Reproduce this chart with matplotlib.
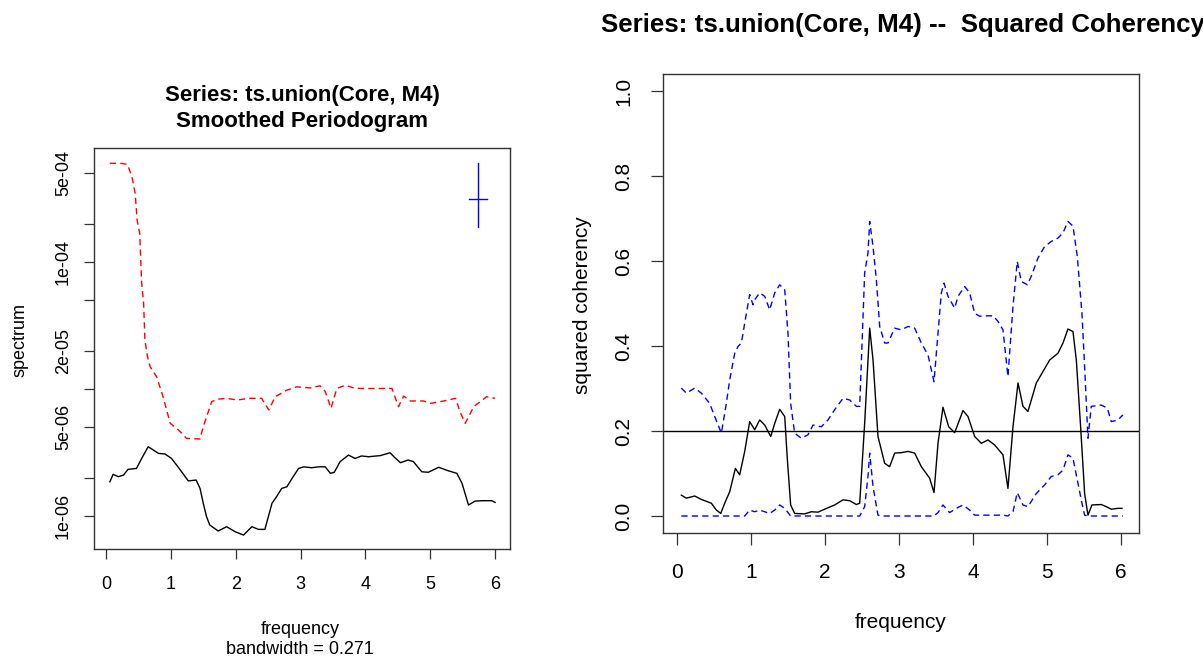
import matplotlib
matplotlib.use("Agg")
import matplotlib.pyplot as plt
import numpy as np

plt.rcParams['font.family'] = ['Liberation Sans', 'DejaVu Sans']

# ---------------- Left panel: smoothed periodogram ----------------
m4_freq = [0.06, 0.24, 0.33, 0.40, 0.45, 0.48, 0.52, 0.55, 0.58, 0.60, 0.64, 0.68,
           0.78, 0.88, 0.99, 1.09, 1.17, 1.24, 1.45, 1.50, 1.63, 1.71, 1.86, 2.02,
           2.22, 2.40, 2.51, 2.61, 2.79, 2.94, 3.15, 3.30, 3.38, 3.47, 3.56, 3.69,
           3.82, 3.92, 4.13, 4.41, 4.51, 4.59, 4.69, 4.90, 5.00, 5.21, 5.39, 5.46,
           5.54, 5.67, 5.87, 6.00]
m4_spec = [5.98e-4, 5.98e-4, 5.87e-4, 4.7e-4, 3.47e-4, 2.14e-4, 1.68e-4, 6.8e-5,
           4.73e-5, 2.43e-5, 1.80e-5, 1.50e-5, 1.25e-5, 8.7e-6, 5.37e-6, 4.9e-6,
           4.48e-6, 4.09e-6, 4.04e-6, 5.05e-6, 7.94e-6, 8.3e-6, 8.45e-6, 8.2e-6,
           8.45e-6, 8.45e-6, 6.84e-6, 8.7e-6, 9.8e-6, 1.04e-5, 1.02e-5, 1.06e-5,
           9.6e-6, 7.05e-6, 1.01e-5, 1.07e-5, 1.02e-5, 1.01e-5, 1.01e-5, 1.01e-5,
           7.26e-6, 8.8e-6, 8.05e-6, 8.05e-6, 7.7e-6, 8.05e-6, 8.45e-6, 6.6e-6,
           5.37e-6, 7.26e-6, 8.7e-6, 8.45e-6]

core_freq = [0.06, 0.11, 0.19, 0.27, 0.34, 0.47, 0.55, 0.65, 0.73, 0.81, 0.91,
             1.01, 1.11, 1.24, 1.27, 1.39, 1.45, 1.50, 1.55, 1.60, 1.73, 1.86,
             1.99, 2.12, 2.25, 2.35, 2.45, 2.56, 2.63, 2.71, 2.79, 2.87, 2.97,
             3.05, 3.17, 3.28, 3.38, 3.46, 3.52, 3.61, 3.74, 3.84, 3.94, 4.05,
             4.23, 4.38, 4.44, 4.54, 4.66, 4.74, 4.87, 4.97, 5.13, 5.28, 5.41,
             5.49, 5.59, 5.69, 5.80, 5.95, 6.00]
core_spec = [1.86e-6, 2.13e-6, 2.04e-6, 2.10e-6, 2.33e-6, 2.37e-6, 2.84e-6, 3.51e-6,
             3.31e-6, 3.11e-6, 3.08e-6, 2.84e-6, 2.44e-6, 1.98e-6, 1.89e-6, 1.92e-6,
             1.65e-6, 1.26e-6, 9.9e-7, 8.5e-7, 7.62e-7, 8.24e-7, 7.53e-7, 7.08e-7,
             8.24e-7, 7.85e-7, 7.85e-7, 1.26e-6, 1.42e-6, 1.65e-6, 1.70e-6, 1.98e-6,
             2.37e-6, 2.44e-6, 2.40e-6, 2.44e-6, 2.44e-6, 2.17e-6, 2.21e-6, 2.68e-6,
             3.02e-6, 2.84e-6, 2.97e-6, 2.93e-6, 2.99e-6, 3.15e-6, 2.93e-6, 2.63e-6,
             2.76e-6, 2.68e-6, 2.23e-6, 2.21e-6, 2.42e-6, 2.27e-6, 2.17e-6, 1.81e-6,
             1.22e-6, 1.31e-6, 1.32e-6, 1.32e-6, 1.28e-6]

# bandwidth / CI cross
cross_x = 5.74
cross_ci = [1.87e-4, 6.05e-4]
cross_y = 3.13e-4
cross_bw = [5.60, 5.87]

spec_yticks = [1e-6, 2e-6, 5e-6, 1e-5, 2e-5, 5e-5, 1e-4, 2e-4, 5e-4]
spec_ylabels = ['1e-06', '', '5e-06', '', '2e-05', '', '1e-04', '', '5e-04']
freq_ticks = [0, 1, 2, 3, 4, 5, 6]

# ---------------- Right panel: squared coherency ----------------
coh_freq = [0.063, 0.13, 0.243, 0.333, 0.468, 0.535, 0.594, 0.648, 0.715, 0.792,
            0.850, 0.918, 0.985, 1.053, 1.12, 1.188, 1.269, 1.323, 1.39, 1.458,
            1.494, 1.538, 1.592, 1.727, 1.817, 1.907, 1.997, 2.132, 2.245, 2.335,
            2.425, 2.47, 2.537, 2.605, 2.65, 2.717, 2.807, 2.874, 2.942, 3.032,
            3.122, 3.212, 3.302, 3.414, 3.473, 3.527, 3.594, 3.671, 3.752, 3.864,
            3.932, 4.022, 4.112, 4.202, 4.292, 4.404, 4.471, 4.539, 4.607, 4.674,
            4.741, 4.854, 4.944, 5.034, 5.146, 5.214, 5.281, 5.349, 5.394, 5.452,
            5.506, 5.551, 5.605, 5.731, 5.798, 5.866, 5.956, 6.01]
coh = [0.049, 0.042, 0.047, 0.039, 0.030, 0.014, 0.006, 0.030, 0.057, 0.112,
       0.097, 0.152, 0.222, 0.203, 0.226, 0.214, 0.187, 0.218, 0.251, 0.234,
       0.132, 0.026, 0.006, 0.005, 0.010, 0.009, 0.016, 0.026, 0.038, 0.036,
       0.027, 0.030, 0.218, 0.442, 0.367, 0.187, 0.124, 0.116, 0.148, 0.149,
       0.152, 0.148, 0.116, 0.089, 0.055, 0.171, 0.256, 0.210, 0.196, 0.248,
       0.234, 0.187, 0.171, 0.179, 0.167, 0.144, 0.065, 0.210, 0.313, 0.258,
       0.246, 0.313, 0.340, 0.367, 0.383, 0.407, 0.440, 0.434, 0.367, 0.210,
       0.053, 0.002, 0.026, 0.027, 0.022, 0.016, 0.018, 0.018]

upper_freq = [0.063, 0.130, 0.243, 0.333, 0.445, 0.513, 0.603, 0.670, 0.715, 0.783,
              0.828, 0.873, 0.918, 0.985, 1.030, 1.053, 1.120, 1.188, 1.255, 1.323,
              1.390, 1.458, 1.502, 1.538, 1.592, 1.682, 1.772, 1.840, 1.952, 2.042,
              2.132, 2.245, 2.335, 2.425, 2.470, 2.537, 2.582, 2.605, 2.650, 2.695,
              2.740, 2.807, 2.852, 2.942, 3.032, 3.122, 3.212, 3.302, 3.392, 3.473,
              3.527, 3.572, 3.608, 3.662, 3.752, 3.797, 3.887, 3.954, 4.022, 4.089,
              4.202, 4.269, 4.337, 4.404, 4.471, 4.539, 4.597, 4.651, 4.732, 4.786,
              4.876, 4.966, 5.056, 5.146, 5.214, 5.281, 5.349, 5.407, 5.470, 5.506,
              5.551, 5.596, 5.731, 5.812, 5.866, 5.956, 6.023]
upper = [0.301, 0.289, 0.301, 0.289, 0.265, 0.234, 0.195, 0.265, 0.320, 0.383,
         0.399, 0.407, 0.454, 0.521, 0.497, 0.509, 0.525, 0.517, 0.485, 0.525,
         0.544, 0.532, 0.430, 0.265, 0.195, 0.183, 0.191, 0.214, 0.210, 0.226,
         0.250, 0.277, 0.273, 0.258, 0.258, 0.572, 0.619, 0.693, 0.634, 0.556,
         0.446, 0.407, 0.407, 0.442, 0.438, 0.446, 0.442, 0.407, 0.379, 0.316,
         0.430, 0.525, 0.548, 0.517, 0.489, 0.517, 0.540, 0.525, 0.477, 0.470,
         0.471, 0.471, 0.458, 0.438, 0.328, 0.493, 0.599, 0.552, 0.544, 0.564,
         0.607, 0.634, 0.646, 0.654, 0.666, 0.693, 0.682, 0.611, 0.477, 0.352,
         0.183, 0.258, 0.261, 0.254, 0.222, 0.226, 0.238]

lower_freq = [0.063, 0.918, 0.985, 1.053, 1.120, 1.255, 1.323, 1.390, 1.458, 1.538,
              2.470, 2.537, 2.582, 2.605, 2.650, 2.717, 2.762, 3.473, 3.527, 3.594,
              3.684, 3.774, 3.864, 3.954, 4.022, 4.404, 4.471, 4.539, 4.597, 4.674,
              4.741, 4.854, 4.966, 5.056, 5.146, 5.214, 5.281, 5.349, 5.407, 5.470,
              5.506, 5.551, 6.023]
lower = [0.0, 0.0, 0.014, 0.010, 0.014, 0.006, 0.014, 0.026, 0.018, 0.0,
         0.0, 0.022, 0.093, 0.148, 0.069, 0.002, 0.0, 0.0, 0.008, 0.026,
         0.008, 0.018, 0.026, 0.014, 0.002, 0.002, 0.0, 0.010, 0.055, 0.026,
         0.022, 0.053, 0.073, 0.093, 0.097, 0.108, 0.144, 0.136, 0.085, 0.030,
         0.002, 0.0, 0.0]

coh_threshold = 0.2
coh_yticks = [0.0, 0.2, 0.4, 0.6, 0.8, 1.0]
coh_ylabels = ['0.0', '0.2', '0.4', '0.6', '0.8', '1.0']

# ---------------- Figure ----------------
W, H = 1203, 662
fig = plt.figure(figsize=(W / 100, H / 100), dpi=100)

def box(l, t, r, b):
    return [l / W, 1 - b / H, (r - l) / W, (b - t) / H]

dash = (0, (4.5, 3.0))

# Left axes
ax1 = fig.add_axes(box(94, 148, 510, 549))
ax1.plot(m4_freq, m4_spec, color='#FF0000', lw=1.0, linestyle=dash)
ax1.plot(core_freq, core_spec, color='black', lw=1.0)
ax1.plot([cross_x, cross_x], cross_ci, color='#0000FF', lw=1.0)
ax1.plot(cross_bw, [cross_y, cross_y], color='#0000FF', lw=1.0)
ax1.set_yscale('log')
ax1.set_xlim(-0.185, 6.23)
ax1.set_ylim(5.5e-7, 7.9e-4)
ax1.minorticks_off()
ax1.set_yticks(spec_yticks)
ax1.set_yticklabels(spec_ylabels, rotation=90, va='center')
ax1.set_xticks(freq_ticks)
ax1.set_xticklabels([str(t) for t in freq_ticks])
ax1.tick_params(axis='both', labelsize=13, length=7.5, width=0.9, color='#333333')
ax1.tick_params(axis='y', pad=8.3)
ax1.tick_params(axis='x', pad=12)
for s in ax1.spines.values():
    s.set_linewidth(1.0)
    s.set_color('#333333')

fig.text(302 / W, 1 - 101 / H, 'Series: ts.union(Core, M4)', ha='center', va='baseline',
         fontsize=16, fontweight='bold')
fig.text(302 / W, 1 - 127 / H, 'Smoothed Periodogram', ha='center', va='baseline',
         fontsize=16, fontweight='bold')
fig.text(20 / W, 1 - 340 / H, 'spectrum', rotation=90, ha='center', va='center', fontsize=13)
fig.text(300 / W, 1 - 629 / H, 'frequency', ha='center', va='center', fontsize=13)
fig.text(300 / W, 1 - 649 / H, 'bandwidth = 0.271', ha='center', va='center', fontsize=13)

# Right axes
ax2 = fig.add_axes(box(663, 74, 1139, 533))
ax2.plot(upper_freq, upper, color='#0000FF', lw=1.0, linestyle=dash)
ax2.plot(lower_freq, lower, color='#0000FF', lw=1.0, linestyle=dash)
ax2.plot(coh_freq, coh, color='black', lw=1.0)
ax2.axhline(coh_threshold, color='black', lw=1.0)
ax2.set_xlim(-0.185, 6.24)
ax2.set_ylim(-0.04, 1.04)
ax2.set_yticks(coh_yticks)
ax2.set_yticklabels(coh_ylabels, rotation=90, va='center')
ax2.set_xticks(freq_ticks)
ax2.set_xticklabels([str(t) for t in freq_ticks])
ax2.tick_params(axis='both', labelsize=15, length=8.5, width=0.9, color='#333333')
ax2.tick_params(axis='y', pad=13)
ax2.tick_params(axis='x', pad=13)
for s in ax2.spines.values():
    s.set_linewidth(1.0)
    s.set_color('#333333')

fig.text(601 / W, 1 - 32 / H, 'Series: ts.union(Core, M4) --  Squared Coherency',
         ha='left', va='baseline', fontsize=18.6, fontweight='bold')
fig.text(583 / W, 1 - 305 / H, 'squared coherency', rotation=90, ha='center', va='center',
         fontsize=15)
fig.text(901 / W, 1 - 623 / H, 'frequency', ha='center', va='center', fontsize=15)

fig.savefig('out.png', dpi=100)
